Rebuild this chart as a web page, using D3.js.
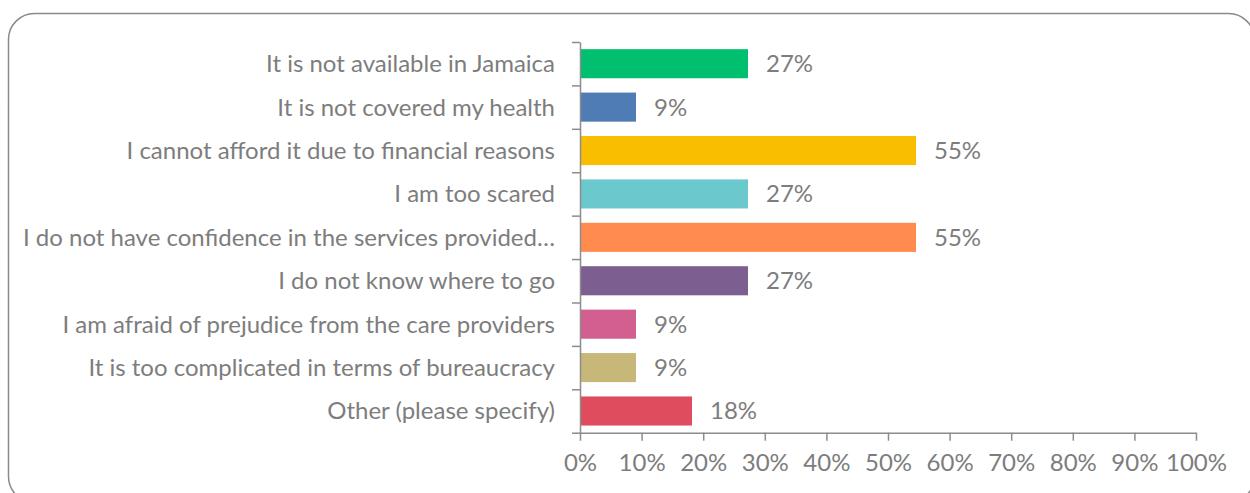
<!DOCTYPE html>
<html>
<head>
<meta charset="utf-8">
<script src="https://cdn.jsdelivr.net/npm/d3@7"></script>
<style>
  html, body { margin: 0; padding: 0; background: #fff; }
  svg { display: block; font-family: Lato, "Open Sans", sans-serif; }
</style>
</head>
<body>
<svg width="1250" height="493"></svg>
<script>
// 데이터 (11명 응답 기준 비율)
const categories = [
  "It is not available in Jamaica",
  "It is not covered my health",
  "I cannot afford it due to financial reasons",
  "I am too scared",
  "I do not have confidence in the services provided…",
  "I do not know where to go",
  "I am afraid of prejudice from the care providers",
  "It is too complicated in terms of bureaucracy",
  "Other (please specify)"
];
const values = [27.27, 9.09, 54.55, 27.27, 54.55, 27.27, 9.09, 9.09, 18.18];
const valueLabels = ["27%", "9%", "55%", "27%", "55%", "27%", "9%", "9%", "18%"];
const colors = ["#00bf6f", "#507cb6", "#f9be00", "#6bc8cd", "#ff8b4f", "#7d5e90", "#d25f90", "#c7b879", "#de4c5e"];
const xTicks = [0, 10, 20, 30, 40, 50, 60, 70, 80, 90, 100];

const svg = d3.select("svg");
const textColor = "#7d7d7d";
const axisColor = "#8c8c8c";
const fontSize = 24;

// 배경 둥근 테두리 (아래/오른쪽은 화면 밖으로 잘림)
svg.append("rect")
  .attr("x", 8.5).attr("y", 13.5)
  .attr("width", 1246).attr("height", 489)
  .attr("rx", 26).attr("ry", 26)
  .attr("fill", "none")
  .attr("stroke", "#8a8a8a")
  .attr("stroke-width", 1.5);

const plotLeft = 580, plotRight = 1196, plotTop = 42, plotBottom = 432.7;

const x = d3.scaleLinear().domain([0, 100]).range([plotLeft, plotRight]);
const y = d3.scaleBand().domain(categories).range([plotTop, plotBottom]).paddingInner(0.33).paddingOuter(0.165);
// 카테고리 경계 눈금용
const yEdge = d3.scaleLinear().domain([0, categories.length]).range([plotTop, plotBottom]);

// 막대
svg.selectAll("rect.bar")
  .data(categories)
  .enter()
  .append("rect")
  .attr("class", "bar")
  .attr("x", x(0))
  .attr("y", (d) => y(d))
  .attr("width", (d, i) => x(values[i]) - x(0))
  .attr("height", y.bandwidth())
  .attr("fill", (d, i) => colors[i]);

// 값 라벨
svg.selectAll("text.val")
  .data(categories)
  .enter()
  .append("text")
  .attr("class", "val")
  .attr("x", (d, i) => x(values[i]) + 18)
  .attr("y", (d) => y(d) + y.bandwidth() / 2)
  .attr("dy", "0.35em")
  .style("font-size", fontSize + "px")
  .style("fill", textColor)
  .text((d, i) => valueLabels[i]);

// 카테고리 라벨
svg.selectAll("text.cat")
  .data(categories)
  .enter()
  .append("text")
  .attr("class", "cat")
  .attr("x", plotLeft - 25)
  .attr("y", (d) => y(d) + y.bandwidth() / 2)
  .attr("dy", "0.35em")
  .attr("text-anchor", "end")
  .style("font-size", fontSize + "px")
  .style("fill", textColor)
  .text((d) => d);

// Y축 (경계 눈금)
const yAxis = svg.append("g")
  .attr("transform", `translate(${plotLeft},0)`)
  .call(d3.axisLeft(yEdge).ticks(categories.length).tickSize(8).tickSizeOuter(0).tickFormat(""));

// X축
const xAxis = svg.append("g")
  .attr("transform", `translate(0,${plotBottom})`)
  .call(d3.axisBottom(x).tickValues(xTicks).tickSize(8).tickSizeOuter(0).tickPadding(13).tickFormat((d) => d + "%"));

[yAxis, xAxis].forEach((g) => {
  g.selectAll("path, line").attr("stroke", axisColor).attr("stroke-width", 1.5);
  g.selectAll("text")
    .style("font-size", fontSize + "px")
    .style("font-family", "Lato, 'Open Sans', sans-serif")
    .attr("fill", textColor);
});
</script>
</body>
</html>
